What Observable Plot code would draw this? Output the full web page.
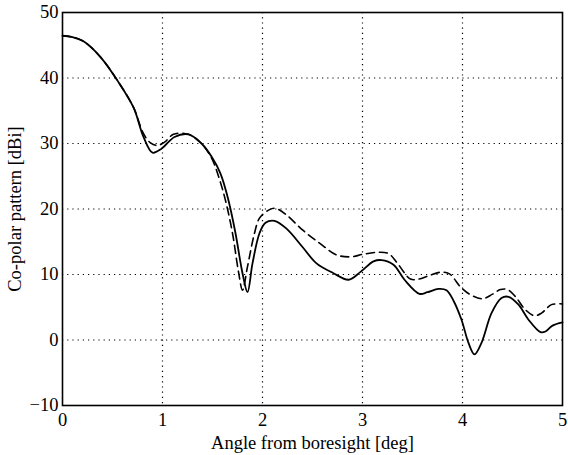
<!DOCTYPE html>
<html>
<head>
<meta charset="utf-8">
<script src="https://cdn.jsdelivr.net/npm/d3@7"></script>
<script src="https://cdn.jsdelivr.net/npm/@observablehq/plot@0.6"></script>
<style>
  html, body { margin: 0; padding: 0; background: #fff; }
  #chart svg { display: block; }
</style>
</head>
<body>
<div id="chart"></div>
<script>
const solidAngle = [0,0.1,0.21,0.38,0.55,0.71,0.81,0.9,0.99,1.12,1.26,1.39,1.49,1.58,1.66,1.73,1.8,1.85,1.9,1.97,2.03,2.12,2.24,2.4,2.54,2.71,2.86,2.98,3.11,3.19,3.31,3.42,3.57,3.65,3.76,3.84,3.91,3.99,4.06,4.12,4.19,4.29,4.39,4.46,4.56,4.66,4.78,4.83,4.9,5.0];
const solidGain  = [46.45,46.25,45.6,43.2,39.6,35.5,31,28.6,29.2,31,31.4,30,28,25.4,21.3,16.3,10.2,7.3,11.7,16.3,17.9,18.2,17,14.2,11.7,10.2,9.2,10.4,12,12.2,11.5,9.2,7.05,7.3,7.8,7.6,6.0,3.1,-0.45,-2.2,-0.45,4.1,6.4,6.6,5.4,3.1,1.2,1.3,2.2,2.7];

const dashAngle = [0,0.1,0.21,0.38,0.55,0.71,0.81,0.88,0.95,1.02,1.11,1.26,1.39,1.49,1.56,1.63,1.7,1.76,1.8,1.85,1.92,1.97,2.07,2.13,2.24,2.4,2.57,2.74,2.88,3.01,3.16,3.26,3.35,3.48,3.56,3.66,3.78,3.87,3.98,4.07,4.2,4.3,4.38,4.45,4.53,4.63,4.72,4.79,4.89,5.0];
const dashGain  = [46.45,46.25,45.6,43.2,39.6,35.5,31.5,30.1,29.7,30.2,31.4,31.4,30,27.8,25,21.3,16.3,10.4,7.6,11.2,16.3,18.6,19.9,20.1,19.1,16.8,14.8,13,12.7,13.1,13.4,13.2,11.7,9.3,9.3,9.8,10.35,10.1,8.1,7.0,6.3,7.0,7.7,7.7,6.6,4.6,3.7,4.1,5.4,5.5];

const xTicks = [0,1,2,3,4,5];
const yTicks = [-10,0,10,20,30,40,50];

const solid = solidAngle.map((a, i) => ({angle: a, gain: solidGain[i]}));
const dashed = dashAngle.map((a, i) => ({angle: a, gain: dashGain[i]}));

const chart = Plot.plot({
  width: 568,
  height: 455,
  marginLeft: 62,
  marginRight: 6,
  marginTop: 12,
  marginBottom: 50,
  style: {fontFamily: "'Liberation Serif', 'Times New Roman', serif", fontSize: "18.5px", color: "#000", background: "#fff"},
  x: {domain: [0, 5], ticks: xTicks, tickFormat: d3.format("d"), tickSize: 0, tickPadding: 7, label: "Angle from boresight [deg]", labelAnchor: "center", labelArrow: "none", labelOffset: 43},
  y: {domain: [-10, 50], ticks: yTicks, tickFormat: d3.format("d"), tickSize: 0, tickPadding: 4, label: "Co-polar pattern [dBi]", labelAnchor: "center", labelArrow: "none", labelOffset: 55},
  marks: [
    Plot.gridX(xTicks.slice(1, -1), {stroke: "#000", strokeOpacity: 1, strokeWidth: 1.2, strokeDasharray: "1.2,4"}),
    Plot.gridY(yTicks.slice(1, -1), {stroke: "#000", strokeOpacity: 1, strokeWidth: 1.2, strokeDasharray: "1.2,4"}),
    Plot.line(dashed, {x: "angle", y: "gain", stroke: "#000", strokeWidth: 1.6, strokeDasharray: "8,5", curve: "catmull-rom"}),
    Plot.line(solid, {x: "angle", y: "gain", stroke: "#000", strokeWidth: 1.8, curve: "catmull-rom"}),
    Plot.frame({stroke: "#000", strokeWidth: 1.6})
  ]
});
document.getElementById("chart").appendChild(chart);
</script>
</body>
</html>
